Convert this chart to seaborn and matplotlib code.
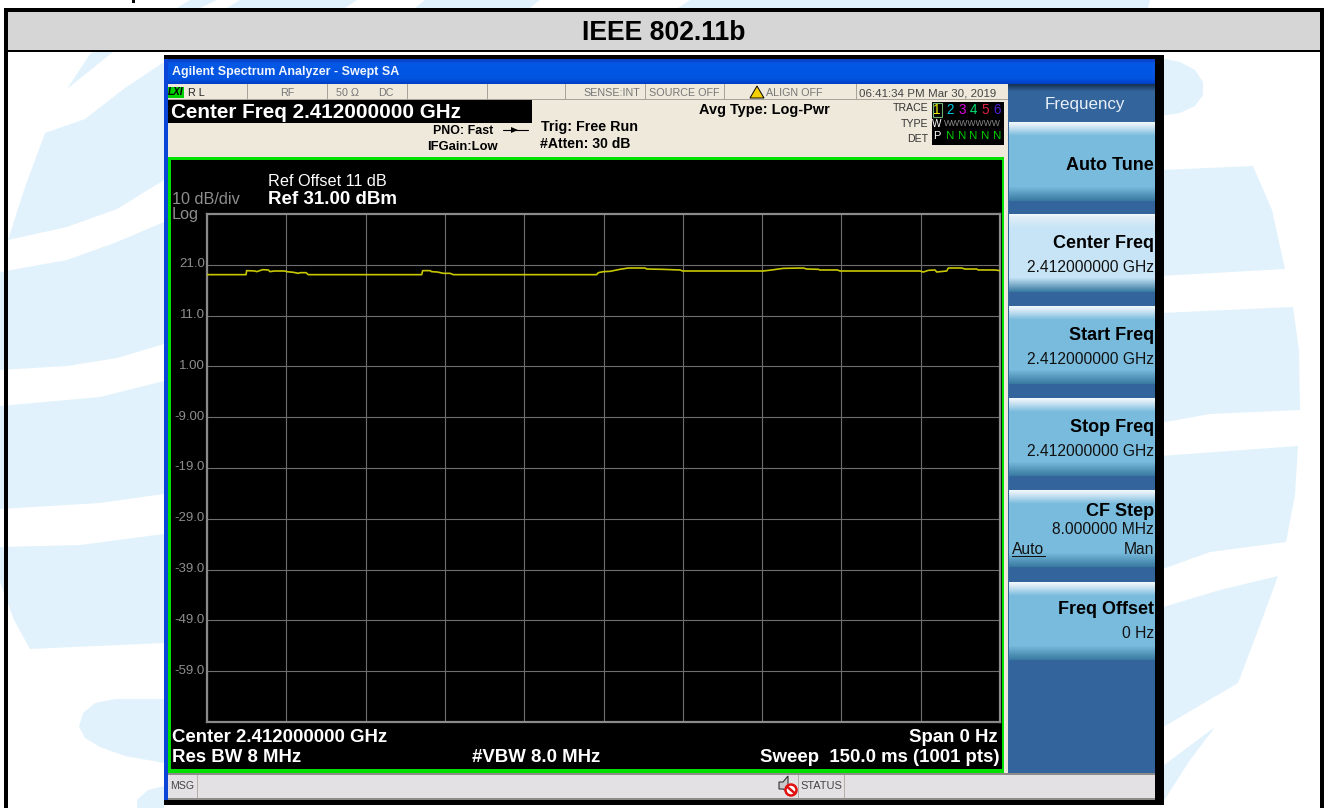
import seaborn as sns
import matplotlib
matplotlib.use("Agg")
import matplotlib.pyplot as plt
import matplotlib.colors as mcolors
import matplotlib.transforms as mtrans
from matplotlib.patches import Polygon, Rectangle, Circle
import numpy as np
import pandas as pd

# trace (zero span, 150 ms sweep)
time_ms = [0, 7.38, 7.50, 9.08, 9.39, 10.53, 11.60, 11.92, 12.67, 14.75, 15.07, 16.33, 17.28, 17.59,
           18.73, 19.17, 40.61, 40.80, 42.18, 42.50, 43.57, 44.70, 45.97, 46.60, 73.71, 74.02, 74.97,
           76.23, 78.12, 79.70, 82.85, 83.17, 86.00, 89.47, 89.98, 105.24, 106.81, 109.02, 112.80,
           113.43, 115.64, 115.96, 119.24, 119.74, 134.87, 135.50, 136.45, 137.71, 138.03, 139.92,
           140.23, 142.76, 143.38, 145.59, 145.91, 149.06, 150]
level_dbm = [19.06, 19.06, 19.85, 19.78, 19.65, 20.04, 19.98, 19.65, 19.78, 19.78, 19.65, 19.52, 19.32, 19.45,
             19.45, 19.06, 19.06, 19.85, 19.85, 19.65, 19.58, 19.32, 19.32, 19.06, 19.06, 19.45, 19.65,
             19.71, 20.11, 20.37, 20.37, 20.17, 20.11, 19.98, 19.78, 19.78, 19.98, 20.30, 20.37,
             20.17, 20.11, 19.98, 19.98, 19.78, 19.78, 19.58, 19.91, 19.98, 19.58, 19.78,
             20.37, 20.37, 20.17, 20.17, 19.98, 19.98, 19.85]
y_ticks = [21, 11, 1, -9, -19, -29, -39, -49, -59]
y_tick_labels = ["21.0", "11.0", "1.00", "-9.00", "-19.0", "-29.0", "-39.0", "-49.0", "-59.0"]
status_cells = ["R L", "RF", "50 Ω", "DC", "SENSE:INT", "SOURCE OFF", "ALIGN OFF"]
trace_digits = ["1", "2", "3", "4", "5", "6"]

W, H = 1328, 808
sns.set_theme(style="dark", rc={"font.family": ["Liberation Sans", "DejaVu Sans"]})
fig = plt.figure(figsize=(W / 100, H / 100), dpi=100, facecolor="white")

# page, screen chrome: one full axes in pixel coordinates
bg = fig.add_axes([0, 0, 1, 1], zorder=0)
bg.set_axis_off()


def rect(x0, y0, x1, y1, color, z=2, **kw):
    bg.add_patch(Rectangle((x0, y0), x1 - x0, y1 - y0, facecolor=color, edgecolor="none", zorder=z, **kw))


def label(x, y, s, px, color="black", ha="left", bold=False, z=6, **kw):
    bg.text(x, y + 1, s, fontsize=px * 0.72, color=color, ha=ha, va="center",
            fontweight="bold" if bold else "normal", zorder=z, **kw)


def gradient(x0, y0, x1, y1, stops, z=3):
    # vertical gradient from (fraction, colour) stops
    pos = np.linspace(0, 1, int(y1 - y0) * 2)
    rgb = np.array([mcolors.to_rgb(c) for _, c in stops])
    fr = [f for f, _ in stops]
    img = np.stack([np.interp(pos, fr, rgb[:, i]) for i in range(3)], axis=1)[:, None, :]
    bg.imshow(img, extent=(x0, x1, y1, y0), aspect="auto", zorder=z, interpolation="nearest")


# watermark behind the screenshot
wm = "#E1F2FC"
shapes = [
    [(67, 89), (90, 54), (94, 52), (113, 52)],
    [(45, 133), (85, 119), (125, 88), (164, 62), (164, 180), (117, 209), (67, 227), (8, 240), (24, 190)],
    [(0, 272), (67, 260), (117, 242), (164, 222), (164, 344), (117, 358), (67, 366), (0, 370)],
    [(0, 406), (100, 397), (164, 381), (164, 494), (100, 503), (0, 509)],
    [(0, 547), (80, 545), (164, 534), (164, 643), (30, 649), (14, 620), (0, 582)],
    [(164, 699), (115, 699), (95, 703), (83, 713), (79, 727), (85, 738), (100, 747), (125, 756), (164, 763)],
    [(164, 786), (148, 790), (137, 800), (137, 808), (164, 808)],
    [(1160, 58), (1180, 62), (1195, 70), (1203, 82), (1203, 95), (1195, 106), (1180, 113), (1160, 116)],
    [(1160, 170), (1253, 166), (1272, 210), (1285, 269), (1160, 276)],
    [(1160, 313), (1293, 307), (1299, 350), (1300, 410), (1210, 414), (1160, 423)],
    [(1160, 456), (1298, 446), (1295, 495), (1286, 542), (1210, 552), (1160, 570)],
    [(1160, 608), (1220, 590), (1278, 576), (1260, 625), (1238, 683), (1160, 729)],
    [(1160, 768), (1215, 727), (1190, 760), (1160, 807)],
    [(177, 8), (190, 0), (217, 0), (200, 8)],
    [(227, 8), (240, 0), (357, 0), (345, 8)],
    [(415, 8), (425, 0), (540, 0), (530, 8)],
    [(678, 8), (690, 0), (1150, 0), (1148, 8)],
]
for pts in shapes:
    bg.add_patch(Polygon(pts, closed=True, facecolor=wm, edgecolor="none", zorder=1))

# table frame and header
rect(132, 0, 135, 3, "black")
rect(8, 12, 1320, 50, "#D6D6D6")
rect(4, 8, 1324, 12, "black", z=3)
rect(8, 50, 1320, 52, "black", z=3)
rect(4, 8, 8, H, "black", z=3)
rect(1320, 8, 1324, H, "black", z=3)
label(664, 32, "IEEE 802.11b", 26.5, ha="center", bold=True)

# analyzer window
rect(164, 55, 1164, 805, "black", z=2)
rect(164, 59, 168, 800, "#0B45D8", z=3)
gradient(168, 59, 1155, 84, [(0, "#0A3CC0"), (0.2, "#0358E6"), (0.8, "#0054E0"), (1, "#0040C8")])
label(172, 71, "Agilent Spectrum Analyzer - Swept SA", 12.5, color="#F0F4FF", bold=True)

# status row
rect(168, 84, 1008, 157, "#EFE9DC", z=3)
for x in [247, 327, 407, 487, 565, 645, 724, 856]:
    rect(x, 84, x + 1, 100, "#A8A49C", z=4)
rect(168, 99, 1008, 100, "#A8A49C", z=4)
rect(168, 87, 184, 98, "#00D000", z=4)
label(176, 91, "LXI", 10, ha="center", bold=True, style="italic")
for x, s in zip([196, 287, 348, 386, 612, 684, 794], status_cells):
    label(x, 92, s, 10.8, color="#222222" if s == "R L" else "#777777", ha="center")
bg.add_patch(Polygon([(750, 98), (757, 86), (764, 98)], facecolor="#F4D000", edgecolor="black", lw=0.7, zorder=5))
label(859, 92, "06:41:34 PM Mar 30, 2019", 11.5, color="#444444")

# measurement header
rect(168, 100, 532, 123, "black", z=4)
label(171, 112, "Center Freq 2.412000000 GHz", 20.6, color="white", bold=True)
label(493, 130, "PNO: Fast", 12.4, ha="right", bold=True)
bg.plot([503, 528], [130, 130], color="black", lw=0.8, zorder=6)
bg.add_patch(Polygon([(511, 127), (518, 130), (511, 133)], facecolor="black", edgecolor="none", zorder=6))
label(498, 146, "IFGain:Low", 13, ha="right", bold=True)
label(541, 126, "Trig: Free Run", 14.2, bold=True)
label(540, 143, "#Atten: 30 dB", 14, bold=True)
label(699, 109, "Avg Type: Log-Pwr", 14.5, bold=True)
label(928, 107, "TRACE", 10.5, color="#333333", ha="right")
label(928, 123, "TYPE", 10.5, color="#333333", ha="right")
label(928, 138, "DET", 10.5, color="#333333", ha="right")

# trace table
rect(932, 102, 1004, 145, "black", z=4)
bg.add_patch(Rectangle((933, 103), 9, 14, facecolor="none", edgecolor="#70B070", lw=0.8, zorder=5))
digit_x = [937, 950, 962, 973, 985, 997]
digit_c = ["#F0F000", "#00C8E0", "#E000E0", "#00E070", "#E02040", "#5020D0"]
for x, d, c in zip(digit_x, trace_digits, digit_c):
    label(x, 109, d, 13.5, color=c, ha="center")
    if d == "1":
        label(x, 123, "W", 10, color="white", ha="center")
        label(x, 135, "P", 11, color="white", ha="center")
    else:
        label(x, 135, "N", 11.5, color="#00D000", ha="center")
label(944, 123, "WWWWWWW", 8.6, color="#8A8A8A")

# screen
rect(168, 157, 1004, 773, "#00E000", z=3)
rect(171, 160, 1002, 769, "black", z=4)
rect(1004, 157, 1008, 773, "#EFE9DC", z=3)
label(268, 181, "Ref Offset 11 dB", 16.2, color="white")
label(268, 199, "Ref 31.00 dBm", 18.8, color="white", bold=True)
label(172, 198, "10 dB/div", 16.2, color="#8E8E8E")
label(172, 213, "Log", 16.2, color="#8E8E8E")
label(172, 736, "Center 2.412000000 GHz", 18.7, color="white", bold=True)
label(172, 757, "Res BW 8 MHz", 18.7, color="white", bold=True)
label(472, 757, "#VBW 8.0 MHz", 18.7, color="white", bold=True)
label(998, 736, "Span 0 Hz", 18.7, color="white", ha="right", bold=True)
label(1000, 757, "Sweep  150.0 ms (1001 pts)", 18.7, color="white", ha="right", bold=True)

# message bar
rect(168, 773, 1155, 800, "#E4E1E4", z=3)
rect(168, 773, 1155, 775, "#8E8C88", z=4)
rect(168, 798, 1155, 800, "#8E8C88", z=4)
for x in [197, 798, 844]:
    rect(x, 775, x + 1, 798, "#B4B0A8", z=4)
label(182, 785, "MSG", 10.5, color="#444444", ha="center")
label(821, 785, "STATUS", 11, color="#444444", ha="center")
bg.add_patch(Polygon([(779, 782), (783, 782), (788, 776), (788, 792), (783, 789), (779, 789)],
                     facecolor="#C8C8C8", edgecolor="#333333", lw=0.8, zorder=5))
bg.add_patch(Circle((791, 790), 5.5, facecolor="white", edgecolor="#E01010", lw=1.8, zorder=6))
bg.plot([787.5, 794.5], [787, 793], color="#E01010", lw=1.8, zorder=7)

# softkeys
rect(1008, 84, 1155, 773, "#33659C", z=3)
gradient(1008, 84, 1155, 92, [(0, "#14304E"), (1, "#33659C")], z=3.5)
label(1084.5, 103, "Frequency", 17, color="#E8F0F8", ha="center")
key_tops = [(122, 201), (214, 292), (306, 384), (398, 476), (490, 567), (582, 660)]
for i, (y0, y1) in enumerate(key_tops):
    base = "#C6E4F6" if i == 1 else "#78BBDD"
    h = y1 - y0
    gradient(1009, y0, 1155, y1, [(0, "#F4F9FD"), (3 / h, "#E0EEF8"), (14 / h, base),
                                  (1 - 14 / h, base), (1, "#3A7BA2")], z=4)
label(1154, 164, "Auto Tune", 18, ha="right", bold=True)
label(1154, 242, "Center Freq", 18, ha="right", bold=True)
label(1154, 266, "2.412000000 GHz", 15.6, ha="right", color="#111111")
label(1154, 334, "Start Freq", 18, ha="right", bold=True)
label(1154, 358, "2.412000000 GHz", 15.6, ha="right", color="#111111")
label(1154, 426, "Stop Freq", 18, ha="right", bold=True)
label(1154, 450, "2.412000000 GHz", 15.6, ha="right", color="#111111")
label(1154, 511, "CF Step", 18, ha="right", bold=True)
label(1154, 529, "8.000000 MHz", 15.6, ha="right", color="#111111")
label(1012, 548, "Auto", 15.6, color="#111111")
rect(1012, 556, 1046, 557, "#111111", z=6)
label(1154, 548, "Man", 15.6, ha="right", color="#111111")
label(1154, 609, "Freq Offset", 18, ha="right", bold=True)
label(1154, 633, "0 Hz", 15.6, ha="right", color="#111111")

bg.set_xlim(0, W)
bg.set_ylim(H, 0)

# trace axes
ax = fig.add_axes([207 / W, 1 - 722 / H, 793 / W, 508 / H], zorder=1, facecolor="black")
df = pd.DataFrame({"time_ms": time_ms, "level_dbm": level_dbm})
sns.lineplot(data=df, x="time_ms", y="level_dbm", estimator=None, color="#C8C800", lw=1.2, ax=ax, legend=False, zorder=3)
ax.set_xlim(0, 150)
ax.set_ylim(-69, 31)
ax.set_xticks(np.arange(0, 151, 15))
ax.set_xticklabels([])
ax.set_yticks(y_ticks)
ax.set_yticklabels(y_tick_labels, fontsize=9.5, color="#8E8E8E")
ax.tick_params(length=0, pad=1.5)
shift = mtrans.ScaledTranslation(0, 2 / 100, fig.dpi_scale_trans)
for t in ax.get_yticklabels():
    t.set_transform(t.get_transform() + shift)
ax.grid(True, color="#6E6E6E", lw=0.8)
ax.set_xlabel("")
ax.set_ylabel("")
for s in ax.spines.values():
    s.set_visible(True)
    s.set_color("#8A8A8A")
    s.set_linewidth(1.6)

fig.savefig("out.png", dpi=100, facecolor="white")
